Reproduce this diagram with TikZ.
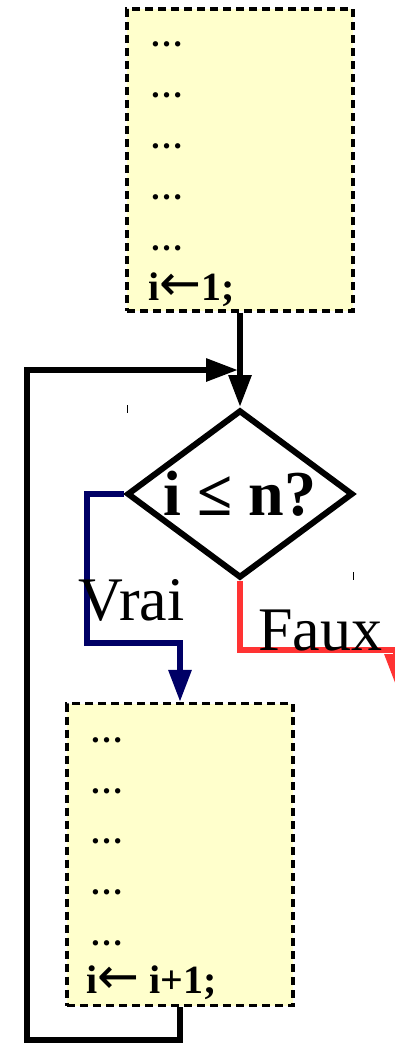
\documentclass[tikz,border=0pt]{standalone}
\usepackage{fontspec}
\setmainfont{Liberation Serif}
\newfontfamily\arrowfont{DejaVu Sans}
\usetikzlibrary{arrows.meta, shapes.geometric}
\definecolor{padyellow}{HTML}{FFFFCC}
\definecolor{vraiblue}{HTML}{000066}
\definecolor{fauxred}{HTML}{FF3333}
\newcommand{\getsarrow}{{\arrowfont\mdseries\fontsize{50}{50}\selectfont ←}}

\begin{document}
\begin{tikzpicture}[x=1pt, y=-1pt,
    bloc/.style={draw=black, fill=padyellow, line width=3.2pt, dash pattern=on 8pt off 5pt,
        minimum width=226pt, minimum height=302pt, inner sep=0pt},
    decision/.style={draw=black, diamond, aspect=1.35, line width=6pt, inner sep=0pt,
        minimum width=226pt, minimum height=168pt, font=\fontsize{64}{64}\selectfont\bfseries},
    flow/.style={line width=6pt, -{Triangle[length=32pt, width=22pt]}},
    dotline/.style={anchor=base west, inner sep=0pt, font=\fontsize{33}{33}\selectfont\bfseries},
    assign/.style={anchor=base west, inner sep=0pt, font=\fontsize{40}{40}\selectfont\bfseries},
    answer/.style={anchor=base west, inner sep=0pt, font=\fontsize{62}{62}\selectfont}]
    \useasboundingbox (0,0) rectangle (395,1046);
    \clip (0,0) rectangle (395,1046);

    % Initialisation block
    \node[bloc] (init) at (240,160) {};
    \foreach \y [count=\k] in {47, 98, 148, 199, 250} {
        \node[dotline] (ia\k) at (150,\y) {…};
    }
    \node[assign] (iset) at (148,300) {i\getsarrow1;};

    % Condition
    \node[decision] (test) at (240,494) {i ≤ n?};

    % Loop body
    \node[bloc] (incr) at (180,854.5) {};
    \foreach \y [count=\k] in {742, 793, 843, 894, 945} {
        \node[dotline] (ib\k) at (90,\y) {…};
    }
    \node[assign] (istep) at (86,993) {i\getsarrow{} i+1;};

    % Helper points
    \coordinate (join) at (238,370);
    \coordinate (back) at (27,1040);
    \coordinate (vbend) at (87,643);
    \coordinate (fbend) at (396,650);
    \coordinate (fout) at (396,686);

    % Main flow
    \draw[flow] (init.south) -- (test.north);
    \draw[flow] (incr.south) |- (back) |- (join);

    % Branches
    \draw[flow, draw=vraiblue] (test.west) -| (vbend) -| (incr.north);
    \draw[flow, draw=fauxred] (test.south) |- (fbend) -- (fout);

    % Labels
    \node[answer] (vrai) at (78,620) {Vrai};
    \node[answer] (faux) at (258,650) {Faux};

    % Small ticks
    \draw[line width=1pt] (127,405) -- (127,413);
    \draw[line width=1pt] (353,572) -- (353,580);
\end{tikzpicture}
\end{document}
